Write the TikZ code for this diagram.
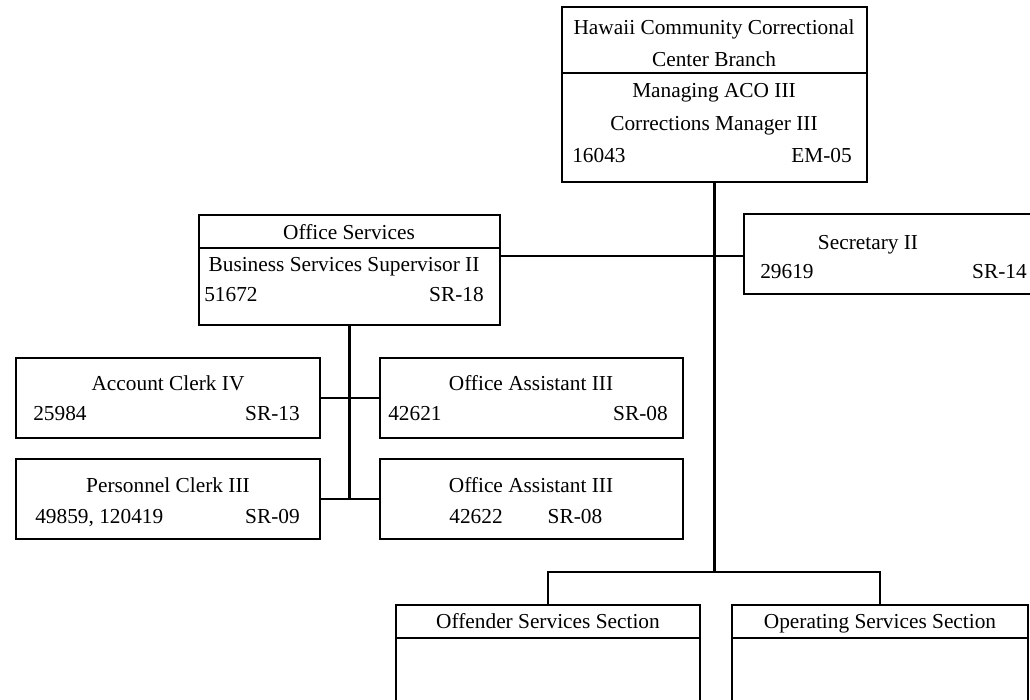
\documentclass[tikz,border=0pt]{standalone}
\usepackage{fontspec}
\setmainfont{Liberation Serif}
\begin{document}
\begin{tikzpicture}[x=0.75pt,y=-0.75pt,
  box/.style n args={2}{draw, line width=1.6pt, inner sep=0pt, outer sep=0pt, anchor=north west, minimum width={#1*0.75pt}, minimum height={#2*0.75pt}},
  conn/.style={line width=1.6pt},
  txt/.style={inner sep=0pt, font=\fontsize{16}{19}\selectfont, anchor=base},
  txtl/.style={txt, anchor=base west},
  txtr/.style={txt, anchor=base east}]
\useasboundingbox (0,0) rectangle (1030,699);

% boxes
\node[box={305}{175}] (top) at (562,7) {};
\node[box={301}{110}] (office) at (199,215) {};
\node[box={310}{80}] (sec) at (744,214) {};
\node[box={304}{80}] (acct) at (16,358) {};
\node[box={304}{80}] (pers) at (16,459) {};
\node[box={303}{80}] (oa1) at (380,358) {};
\node[box={303}{80}] (oa2) at (380,459) {};
\node[box={304}{200}] (offender) at (396,605) {};
\node[box={296}{200}] (operating) at (732,605) {};

% dividers
\draw[conn] (top.west |- 0,73) -- (top.east |- 0,73);
\draw[conn] (office.west |- 0,248) -- (office.east |- 0,248);
\draw[conn] (offender.west |- 0,638) -- (offender.east |- 0,638);
\draw[conn] (operating.west |- 0,638) -- (operating.east |- 0,638);

% texts
\node[txt] (t1) at (714,35) {Hawaii Community Correctional};
\node[txt] (t2) at (714,67) {Center Branch};
\node[txt] (t3) at (714,98) {Managing ACO III};
\node[txt] (t4) at (714,130) {Corrections Manager III};
\node[txtl] (t5) at (572,162) {16043};
\node[txtr] (t6) at (852,162) {EM-05};

\node[txt] (o1) at (349,239) {Office Services};
\node[txt] (o2) at (344,271) {Business Services Supervisor II};
\node[txtl] (o3) at (204,301) {51672};
\node[txtr] (o4) at (484,301) {SR-18};

\node[txt] (s1) at (868,249) {Secretary II};
\node[txtl] (s2) at (760,278) {29619};
\node[txtr] (s3) at (1027,278) {SR-14};

\node[txt] (a1) at (168,390) {Account Clerk IV};
\node[txtl] (a2) at (33,420) {25984};
\node[txtr] (a3) at (300,420) {SR-13};

\node[txt] (p1) at (168,492) {Personnel Clerk III};
\node[txtl] (p2) at (35,523) {49859, 120419};
\node[txtr] (p3) at (300,523) {SR-09};

\node[txt] (q1) at (531,390) {Office Assistant III};
\node[txtl] (q2) at (388,420) {42621};
\node[txtr] (q3) at (668,420) {SR-08};

\node[txt] (r1) at (531,492) {Office Assistant III};
\node[txt] (r2) at (476,523) {42622};
\node[txt] (r3) at (575,523) {SR-08};

\node[txt] (f1) at (548,628) {Offender Services Section};
\node[txt] (g1) at (880,628) {Operating Services Section};

% connectors
\coordinate (busc) at (top.south |- 0,572);
\draw[conn] (top.south) -- (busc);
\draw[conn] (offender.north) |- (busc) -| (operating.north);
\coordinate (oc) at (office.east |- 0,256);
\draw[conn] (oc) -- (oc -| sec.west);
\draw[conn] (office.south) -- (office.south |- pers.east);
\draw[conn] (acct.east) -- (oa1.west);
\draw[conn] (pers.east) -- (oa2.west);
\end{tikzpicture}
\end{document}
